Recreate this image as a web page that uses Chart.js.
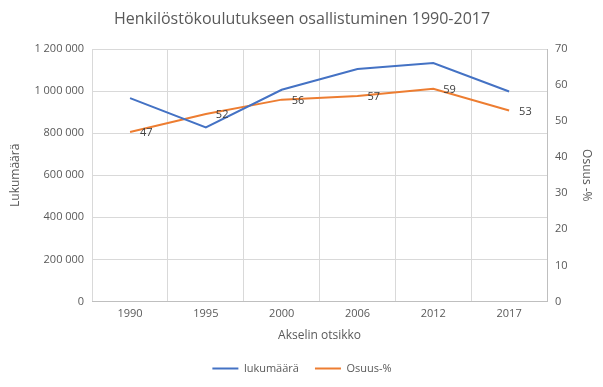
<!DOCTYPE html>
<html>
<head>
<meta charset="utf-8">
<script src="https://cdn.jsdelivr.net/npm/chart.js@4"></script>
<style>
  html, body { margin: 0; padding: 0; background: #fff; }
  #wrap { width: 603px; height: 387px; }
</style>
</head>
<body>
<div id="wrap"><canvas id="chart_osallistuminen" width="603" height="387"></canvas></div>
<script>
// vuodet ja sarjat
var vuodet = ["1990", "1995", "2000", "2006", "2012", "2017"];
var lukumaara = [967000, 828000, 1007000, 1106000, 1134000, 999000];
var osuus = [47, 52, 56, 57, 59, 53];

var harmaa = '#595959';
var fontti = "'Open Sans', 'Liberation Sans', sans-serif";

// numerot orange-sarjan viereen
const arvoLabelit = {
    id: 'arvoLabelit',
    afterDatasetsDraw(chart) {
        const ctx = chart.ctx;
        const meta = chart.getDatasetMeta(1);
        ctx.save();
        ctx.font = '11px ' + fontti;
        ctx.fillStyle = '#404040';
        ctx.textAlign = 'left';
        ctx.textBaseline = 'middle';
        meta.data.forEach(function(p, i) {
            ctx.fillText(osuus[i], p.x + 10, p.y + 1);
        });
        ctx.restore();
    }
};

function lukuMuoto(v) {
    return v.toString().replace(/\B(?=(\d{3})+(?!\d))/g, ' ');
}

const data = {
    labels: vuodet,
    datasets: [{
        label: 'lukumäärä',
        data: lukumaara,
        borderColor: '#4472C4',
        backgroundColor: '#4472C4',
        borderWidth: 2,
        pointRadius: 0,
        tension: 0,
        yAxisID: 'y'
    }, {
        label: 'Osuus-%',
        data: osuus,
        borderColor: '#ED7D31',
        backgroundColor: '#ED7D31',
        borderWidth: 2,
        pointRadius: 0,
        tension: 0,
        yAxisID: 'y1'
    }]
};

const config = {
    type: 'line',
    data: data,
    plugins: [arvoLabelit],
    options: {
        responsive: false,
        animation: false,
        layout: { padding: { left: 4, right: 3, top: 4, bottom: 3 } },
        plugins: {
            title: {
                display: true,
                text: 'Henkilöstökoulutukseen osallistuminen 1990-2017',
                color: harmaa,
                font: { family: fontti, size: 16, weight: 'normal' },
                padding: { top: 6, bottom: 20 }
            },
            legend: {
                position: 'bottom',
                labels: {
                    usePointStyle: true,
                    pointStyle: 'line',
                    pointStyleWidth: 26,
                    boxHeight: 2,
                    color: harmaa,
                    font: { family: fontti, size: 11 },
                    padding: 16
                }
            },
            tooltip: { enabled: false }
        },
        scales: {
            x: {
                offset: true,
                grid: { color: '#d9d9d9', offset: true, drawTicks: false },
                border: { color: '#bfbfbf' },
                ticks: { color: harmaa, font: { family: fontti, size: 11 }, padding: 6 },
                title: {
                    display: true, text: 'Akselin otsikko', color: harmaa,
                    font: { family: fontti, size: 12 }, padding: { top: 2, bottom: 4 }
                }
            },
            y: {
                position: 'left',
                min: 0, max: 1200000,
                grid: { color: '#d9d9d9', drawTicks: false },
                border: { display: false },
                ticks: {
                    stepSize: 200000, color: harmaa, padding: 8,
                    font: { family: fontti, size: 11 },
                    callback: function(v) { return lukuMuoto(v); }
                },
                title: {
                    display: true, text: 'Lukumäärä', color: harmaa,
                    font: { family: fontti, size: 12 }, padding: { bottom: 4 }
                }
            },
            y1: {
                position: 'right',
                min: 0, max: 70,
                grid: { drawOnChartArea: false, drawTicks: false },
                border: { color: '#bfbfbf' },
                ticks: {
                    stepSize: 10, color: harmaa, padding: 8,
                    font: { family: fontti, size: 11 }
                },
                title: {
                    display: true, text: 'Osuus -%', color: harmaa,
                    font: { family: fontti, size: 12 }, padding: { top: 6 }
                }
            }
        }
    }
};

const kaavio = new Chart(document.getElementById('chart_osallistuminen'), config);
</script>
</body>
</html>
